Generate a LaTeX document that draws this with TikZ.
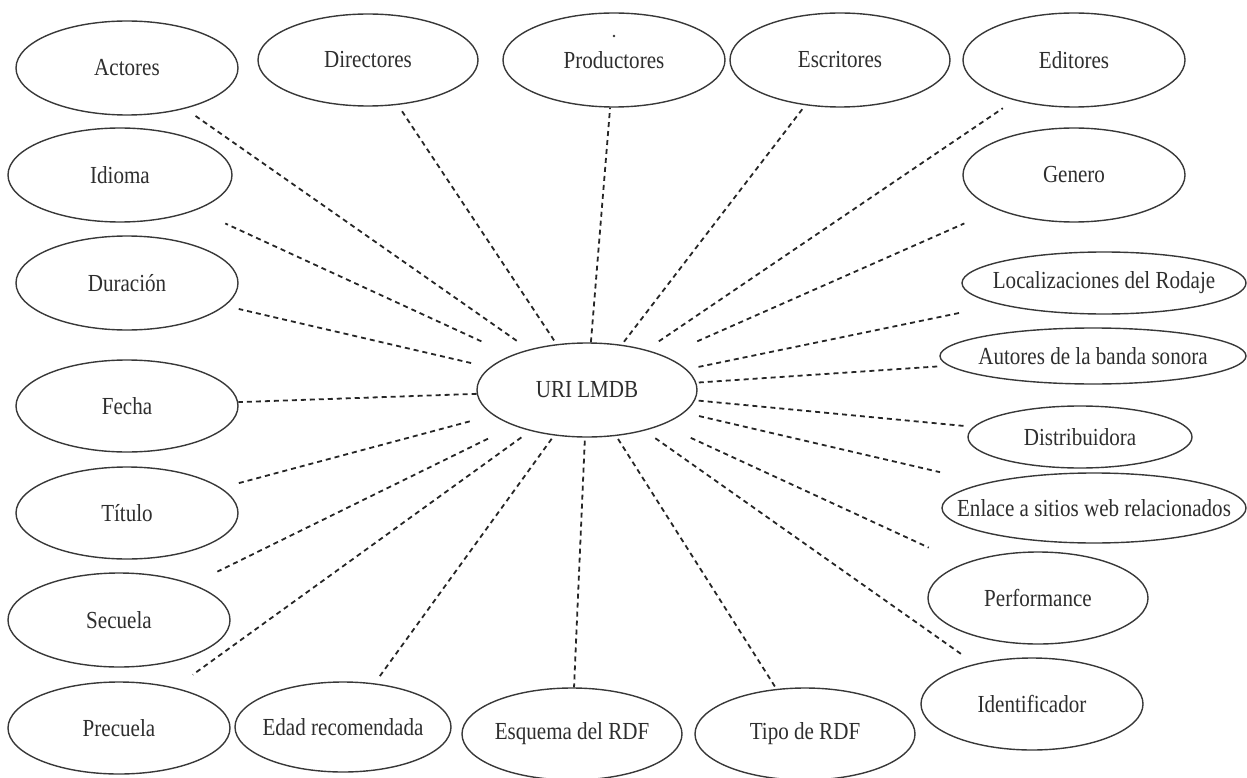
\documentclass[tikz,border=0pt]{standalone}
\usepackage{fontspec}
\setmainfont{Liberation Serif}[FakeStretch=0.86]
\usetikzlibrary{shapes.geometric}
% zero-width label so the ellipse size is set only by minimum width/height
\newcommand\entlabel[1]{\makebox[0pt]{#1}}
\begin{document}
\begin{tikzpicture}[x=1pt,y=-1pt,
  entity/.style={ellipse, draw=black!78, line width=1.4pt, inner sep=0pt,
    text=black!82, font=\fontsize{24.5}{28}\selectfont},
  link/.style={draw=black!85, line width=1.8pt, dash pattern=on 5pt off 4pt},
]
\useasboundingbox (0,0) rectangle (1247,778);

% central resource
\node[entity, minimum width=220pt, minimum height=94pt] (uri) at (587,390) {\entlabel{URI LMDB}};

% properties
\node[entity, minimum width=222pt, minimum height=94pt] (actores) at (127,68) {\entlabel{Actores}};
\node[entity, minimum width=220pt, minimum height=92pt] (directores) at (368,60) {\entlabel{Directores}};
\node[entity, minimum width=222pt, minimum height=94pt] (productores) at (614,60) {\entlabel{Productores}};
\node[entity, minimum width=220pt, minimum height=94pt] (escritores) at (840,60) {\entlabel{Escritores}};
\node[entity, minimum width=222pt, minimum height=94pt] (editores) at (1074,60) {\entlabel{Editores}};
\node[entity, minimum width=222pt, minimum height=94pt] (genero) at (1074,175) {\entlabel{Genero}};
\node[entity, minimum width=224pt, minimum height=94pt] (idioma) at (120,175) {\entlabel{Idioma}};
\node[entity, minimum width=222pt, minimum height=94pt] (duracion) at (127,283) {\entlabel{Duración}};
\node[entity, minimum width=222pt, minimum height=92pt] (fecha) at (127,406) {\entlabel{Fecha}};
\node[entity, minimum width=222pt, minimum height=92pt] (titulo) at (127,513) {\entlabel{Título}};
\node[entity, minimum width=222pt, minimum height=94pt] (secuela) at (119,620) {\entlabel{Secuela}};
\node[entity, minimum width=222pt, minimum height=92pt] (precuela) at (119,728) {\entlabel{Precuela}};
\node[entity, minimum width=216pt, minimum height=90pt] (edad) at (343,727) {\entlabel{Edad recomendada}};
\node[entity, minimum width=220pt, minimum height=92pt] (esquema) at (572,734) {\entlabel{Esquema del RDF}};
\node[entity, minimum width=220pt, minimum height=92pt] (tipo) at (805,734) {\entlabel{Tipo de RDF}};
\node[entity, minimum width=222pt, minimum height=92pt] (identificador) at (1032,704) {\entlabel{Identificador}};
\node[entity, minimum width=220pt, minimum height=92pt] (performance) at (1038,598) {\entlabel{Performance}};
\node[entity, minimum width=304pt, minimum height=70pt] (enlace) at (1094,508) {\entlabel{Enlace a sitios web relacionados}};
\node[entity, minimum width=224pt, minimum height=62pt] (distribuidora) at (1080,437) {\entlabel{Distribuidora}};
\node[entity, minimum width=306pt, minimum height=56pt] (autores) at (1093,356) {\entlabel{Autores de la banda sonora}};
\node[entity, minimum width=284pt, minimum height=62pt] (localizaciones) at (1104,283) {\entlabel{Localizaciones del Rodaje}};

% small mark above the Productores label
\fill[black!80] ([yshift=24pt]productores.center) circle (1.3pt);

% dashed links from the central resource
\draw[link, shorten <=15pt, shorten >=12.5pt] (uri) -- (actores);
\draw[link, shorten <=4.5pt, shorten >=3.7pt] (uri) -- (directores);
\draw[link] (uri) -- (productores);
\draw[link, shorten <=3.7pt, shorten >=3.5pt] (uri) -- (escritores);
\draw[link, shorten <=15pt, shorten >=14pt] (uri) -- (editores);
\draw[link, shorten <=36pt, shorten >=35pt] (uri) -- (genero);
\draw[link, shorten <=33pt, shorten >=32pt] (uri) -- (idioma);
\draw[link, shorten <=19pt, shorten >=14pt] (uri) -- (duracion);
\draw[link] (uri) -- (fecha);
\draw[link, shorten <=24pt, shorten >=18pt] (uri) -- (titulo);
\draw[link, shorten <=29pt, shorten >=28pt] (uri) -- (secuela);
\draw[link, shorten <=11pt, shorten >=22pt] (uri) -- (precuela);
\draw[link, shorten <=4pt, shorten >=5pt] (uri) -- (edad);
\draw[link, shorten <=3pt] (uri) -- (esquema);
\draw[link, shorten <=3.5pt, shorten >=2pt] (uri) -- (tipo);
\draw[link, shorten <=13pt, shorten >=16.6pt] (uri) -- (identificador);
\draw[link, shorten <=31pt, shorten >=38pt] (uri) -- (performance);
\draw[link, shorten <=15pt, shorten >=47pt] (uri) -- (enlace);
\draw[link, shorten <=3.6pt, shorten >=6.5pt] (uri) -- (distribuidora);
\draw[link, shorten <=2.4pt, shorten >=9pt] (uri) -- (autores);
\draw[link, shorten <=12pt, shorten >=40pt] (uri) -- (localizaciones);
\end{tikzpicture}
\end{document}
